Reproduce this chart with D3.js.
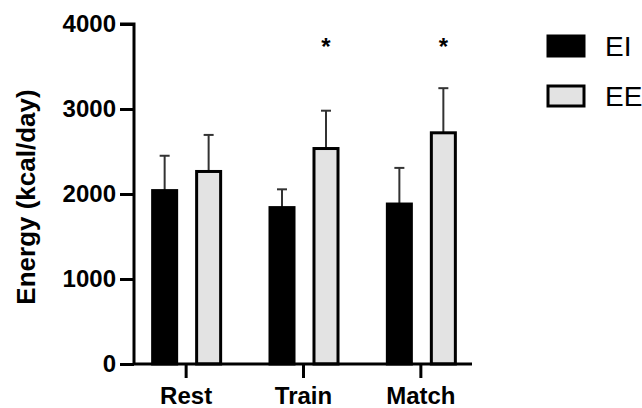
<!DOCTYPE html>
<html>
<head>
<meta charset="utf-8">
<script src="https://cdn.jsdelivr.net/npm/d3@7"></script>
<style>
  body { margin: 0; background: #fff; }
  svg { display: block; font-family: "Liberation Sans", Arial, sans-serif; }
</style>
</head>
<body>
<svg class="chart"></svg>
<script>
var categories = ["Rest", "Train", "Match"];
var series = ["EI", "EE"];
var eiMean = [2040, 1840, 1882];
var eiSd = [410, 215, 425];
var eeMean = [2265, 2535, 2720];
var eeSd = [430, 445, 525];
var starred = [false, true, true]; // * over EE bar
var yTicks = [0, 1000, 2000, 3000, 4000];

var width = 642, height = 408;
var fills = { EI: "#000", EE: "#e3e3e3" };

var chart = d3.select(".chart")
    .attr("width", width)
    .attr("height", height);

var x = d3.scalePoint()
    .domain(categories)
    .range([134, 472])
    .padding(0.44);

var x1 = d3.scaleBand()
    .domain(series)
    .range([-34.5, 36.5])
    .paddingInner(0.386);

var y = d3.scaleLinear()
    .domain([0, 4000])
    .range([364, 24]);

var rows = [];
categories.forEach(function(c, i) {
    rows.push({ cat: c, s: "EI", v: eiMean[i], sd: eiSd[i] });
    rows.push({ cat: c, s: "EE", v: eeMean[i], sd: eeSd[i], star: starred[i] });
});

var g = chart.append("g");

// error bars (upper only), drawn under the bars
var err = g.selectAll("g.err")
    .data(rows)
    .enter()
    .append("g")
    .attr("class", "err")
    .attr("stroke", "#333")
    .attr("stroke-width", 2);

err.append("line")
    .attr("x1", function(d) { return x(d.cat) + x1(d.s) + x1.bandwidth() / 2; })
    .attr("x2", function(d) { return x(d.cat) + x1(d.s) + x1.bandwidth() / 2; })
    .attr("y1", function(d) { return y(d.v); })
    .attr("y2", function(d) { return y(d.v + d.sd); });

err.append("line")
    .attr("x1", function(d) { return x(d.cat) + x1(d.s) + x1.bandwidth() / 2 - 5; })
    .attr("x2", function(d) { return x(d.cat) + x1(d.s) + x1.bandwidth() / 2 + 5; })
    .attr("y1", function(d) { return y(d.v + d.sd); })
    .attr("y2", function(d) { return y(d.v + d.sd); });

g.selectAll("rect.bar")
    .data(rows)
    .enter()
    .append("rect")
    .attr("class", "bar")
    .attr("x", function(d) { return x(d.cat) + x1(d.s) + 1.5; })
    .attr("width", x1.bandwidth() - 3)
    .attr("y", function(d) { return y(d.v); })
    .attr("height", function(d) { return y(0) - y(d.v); })
    .attr("fill", function(d) { return fills[d.s]; })
    .attr("stroke", "#000")
    .attr("stroke-width", 3);

g.selectAll("text.star")
    .data(rows.filter(function(d) { return d.star; }))
    .enter()
    .append("text")
    .attr("class", "star")
    .attr("x", function(d) { return x(d.cat) + x1(d.s) + x1.bandwidth() / 2; })
    .attr("y", 55)
    .attr("text-anchor", "middle")
    .attr("font-size", 24)
    .attr("font-weight", "bold")
    .text("*");

// axes
var yAxis = chart.append("g")
    .attr("transform", "translate(134,0)")
    .call(d3.axisLeft(y).tickValues(yTicks).tickFormat(d3.format("d")).tickSize(14).tickPadding(4));

var xAxis = chart.append("g")
    .attr("transform", "translate(0,364)")
    .call(d3.axisBottom(x).tickSize(14).tickPadding(6));

[yAxis, xAxis].forEach(function(a) {
    a.select(".domain").attr("stroke", "#000").attr("stroke-width", 3);
    a.selectAll(".tick line").attr("stroke", "#000").attr("stroke-width", 3);
    a.selectAll(".tick text")
        .attr("fill", "#000")
        .attr("font-size", 24)
        .attr("font-weight", "bold")
        .attr("font-family", "Liberation Sans, Arial, sans-serif");
});
yAxis.select(".domain").attr("d", "M-14,24H0V364");
xAxis.select(".domain").attr("d", "M134,0H472");
xAxis.selectAll(".tick line").attr("y1", 0).attr("y2", 14);
xAxis.selectAll(".tick text").attr("dy", "0.71em").attr("y", 23);

chart.append("text")
    .attr("transform", "translate(35,197) rotate(-90)")
    .attr("text-anchor", "middle")
    .attr("font-size", 26)
    .attr("font-weight", "bold")
    .text("Energy (kcal/day)");

// legend
var legend = chart.selectAll("g.legend")
    .data(series)
    .enter()
    .append("g")
    .attr("class", "legend")
    .attr("transform", function(d, i) { return "translate(548," + (36 + i * 50) + ")"; });

legend.append("rect")
    .attr("width", 36)
    .attr("height", 20)
    .attr("fill", function(d) { return fills[d]; })
    .attr("stroke", "#000")
    .attr("stroke-width", 3);

legend.append("text")
    .attr("x", 57)
    .attr("y", 20)
    .attr("font-size", 28)
    .text(function(d) { return d; });
</script>
</body>
</html>
